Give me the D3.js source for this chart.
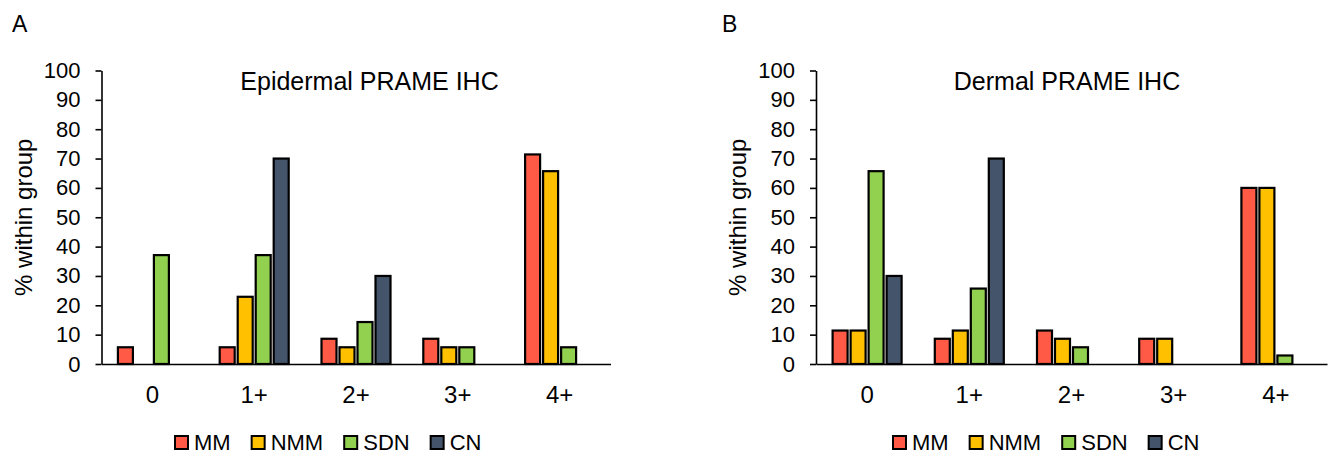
<!DOCTYPE html>
<html>
<head>
<meta charset="utf-8">
<script src="https://cdn.jsdelivr.net/npm/d3@7"></script>
<style>
  body { margin: 0; background: #fff; }
  svg { display: block; font-family: "Liberation Sans", Arial, sans-serif; }
</style>
</head>
<body>
<div id="chart"></div>
<script>
// categories and groups
var categories = ["0", "1+", "2+", "3+", "4+"];
var groups = ["MM", "NMM", "SDN", "CN"];
var yTicks = [0, 10, 20, 30, 40, 50, 60, 70, 80, 90, 100];

// Epidermal PRAME IHC (% within group)
var epiMM  = [5.7, 5.7, 8.6, 8.6, 71.4];
var epiNMM = [0, 22.9, 5.7, 5.7, 65.7];
var epiSDN = [37.1, 37.1, 14.3, 5.7, 5.7];
var epiCN  = [0, 70, 30, 0, 0];

// Dermal PRAME IHC (% within group)
var derMM  = [11.4, 8.6, 11.4, 8.6, 60];
var derNMM = [11.4, 11.4, 8.6, 8.6, 60];
var derSDN = [65.7, 25.7, 5.7, 0, 2.9];
var derCN  = [30, 70, 0, 0, 0];

var colors = {MM: "#ff5a45", NMM: "#ffc000", SDN: "#92d050", CN: "#44546a"};

var svg = d3.select("#chart")
  .append("svg")
    .attr("width", 1330)
    .attr("height", 455);

function drawPanel(opt) {
  var left = opt.left, width = opt.width,
      top = 70.5, bottom = 364;

  var g = svg.append("g")
    .attr("transform", "translate(" + left + ",0)");

  var x0 = d3.scaleBand()
    .domain(categories)
    .range([0, width]);

  var x1 = d3.scaleBand()
    .domain(groups)
    .range([0, 72]);

  var y = d3.scaleLinear()
    .domain([0, 100])
    .range([bottom, top]);

  // bars
  var rows = [];
  categories.forEach(function(c, i) {
    groups.forEach(function(s) {
      rows.push({cat: c, grp: s, value: opt.series[s][i]});
    });
  });

  var off = (x0.bandwidth() - 72) / 2;
  g.append("g")
    .selectAll("rect")
    .data(rows.filter(function(d) { return d.value > 0; }))
    .enter()
    .append("rect")
      .attr("x", function(d) { return x0(d.cat) + off + x1(d.grp) + 1.5; })
      .attr("y", function(d) { return y(d.value); })
      .attr("width", 15)
      .attr("height", function(d) { return bottom - y(d.value); })
      .style("fill", function(d) { return colors[d.grp]; })
      .style("stroke", "#000")
      .style("stroke-width", 2.2);

  // x axis
  var xAxis = g.append("g")
    .attr("transform", "translate(0," + bottom + ")")
    .call(d3.axisBottom(x0).tickSize(0).tickPadding(22));
  xAxis.select(".domain").attr("stroke", "#000").attr("stroke-width", 1.6);
  xAxis.selectAll("text")
    .attr("fill", "#000")
    .style("font-size", "24px")
    .style("font-family", "Liberation Sans, Arial, sans-serif");

  // y axis
  var yAxis = g.append("g")
    .call(d3.axisLeft(y).tickValues(yTicks).tickSize(6).tickSizeOuter(0).tickPadding(15));
  yAxis.select(".domain").attr("stroke", "#000").attr("stroke-width", 1.6);
  yAxis.selectAll("line").attr("stroke", "#000").attr("stroke-width", 1.6);
  yAxis.selectAll("text")
    .attr("fill", "#000")
    .style("font-size", "22px")
    .style("font-family", "Liberation Sans, Arial, sans-serif");

  // y label
  g.append("text")
    .attr("transform", "rotate(-90)")
    .attr("x", -(top + bottom) / 2)
    .attr("y", -78)
    .attr("dy", "0.35em")
    .style("text-anchor", "middle")
    .style("font-size", "24px")
    .text("% within group");

  // title
  g.append("text")
    .attr("x", opt.titleX)
    .attr("y", 90)
    .style("text-anchor", "middle")
    .style("font-size", "25px")
    .text(opt.title);

  // panel letter
  svg.append("text")
    .attr("x", opt.letterX)
    .attr("y", 32)
    .style("font-size", "23px")
    .text(opt.letter);

  // legend
  var legend = g.append("g")
    .attr("transform", "translate(" + opt.legendX + ",435)");
  var lx = 0;
  groups.forEach(function(s) {
    legend.append("rect")
      .attr("x", lx + 1)
      .attr("y", 1)
      .attr("width", 13)
      .attr("height", 13)
      .style("fill", colors[s])
      .style("stroke", "#000")
      .style("stroke-width", 2);
    var t = legend.append("text")
      .attr("x", lx + 20)
      .attr("y", 15)
      .style("font-size", "22px")
      .text(s);
    lx += 20 + t.node().getComputedTextLength() + 20;
  });
}

drawPanel({
  left: 101.5, width: 509,
  title: "Epidermal PRAME IHC", titleX: 268, letter: "A", letterX: 12, legendX: 72.5,
  series: {MM: epiMM, NMM: epiNMM, SDN: epiSDN, CN: epiCN}
});

drawPanel({
  left: 816, width: 511,
  title: "Dermal PRAME IHC", titleX: 251, letter: "B", letterX: 722, legendX: 76,
  series: {MM: derMM, NMM: derNMM, SDN: derSDN, CN: derCN}
});
</script>
</body>
</html>
